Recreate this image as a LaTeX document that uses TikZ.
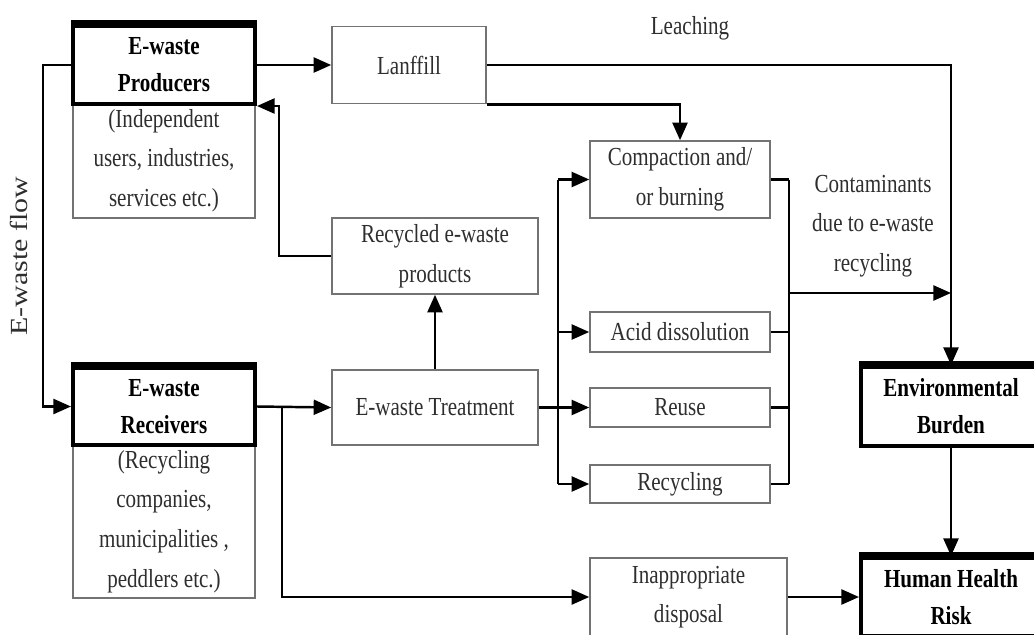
\documentclass[tikz,border=0pt]{standalone}
\usepackage{fontspec}
\setmainfont{Liberation Serif}[FakeStretch=0.81]
\newfontfamily\flowfont{Liberation Serif}[FakeStretch=1.22]
\usetikzlibrary{arrows.meta,calc}

\tikzset{
  box/.style = {draw = black!55, line width = 0.9pt, text = black!82, align = center,
    inner sep = 1pt, font = \fontsize{14.8}{22.5}\selectfont},
  heavybox/.style = {draw = black, line width = 2.3pt, align = center,
    inner sep = 1pt, font = \fontsize{14.8}{21}\selectfont\bfseries},
  note/.style = {text = black!82, align = center, font = \fontsize{14.8}{22.5}\selectfont},
  wire/.style = {line width = 1.4pt},
  arr/.style = {wire, -{Triangle[length = 10pt, width = 8.5pt]}},
}

\begin{document}
\begin{tikzpicture}[x = 0.02cm, y = -0.02cm]
                \useasboundingbox (0, 0) rectangle (1034, 635);

                % sources of e-waste
                \node [box, minimum width = 3.64cm, minimum height = 2.30cm] (prodinfo) at (164, 160.5) {(Independent\\users, industries,\\services etc.)};
                \node [heavybox, minimum width = 3.64cm, minimum height = 1.56cm] (prod) at (164, 65) {E-waste\\Producers};

                \node [box, minimum width = 3.64cm, minimum height = 3.06cm] (recinfo) at (164, 521.5) {(Recycling\\companies,\\municipalities ,\\peddlers etc.)};
                \node [heavybox, minimum width = 3.64cm, minimum height = 1.54cm] (rec) at (164, 406.5) {E-waste\\Receivers};

                % middle column
                \node [box, minimum width = 3.08cm, minimum height = 1.54cm] (land) at (409, 65) {Lanffill};
                \node [box, minimum width = 4.12cm, minimum height = 1.52cm] (recyc) at (435, 256) {Recycled e-waste\\products};
                \node [box, minimum width = 4.12cm, minimum height = 1.50cm] (treat) at (435, 407.5) {E-waste Treatment};

                % treatment routes
                \node [box, minimum width = 3.60cm, minimum height = 1.54cm] (comp) at (680, 179.5) {Compaction and/\\or burning};
                \node [box, minimum width = 3.60cm, minimum height = 0.80cm] (acid) at (680, 332) {Acid dissolution};
                \node [box, minimum width = 3.60cm, minimum height = 0.78cm] (reuse) at (680, 407.5) {Reuse};
                \node [box, minimum width = 3.60cm, minimum height = 0.76cm] (recyl) at (680, 484) {Recycling};
                \node [box, minimum width = 3.94cm, minimum height = 1.56cm] (inapp) at (688.5, 597) {Inappropriate\\disposal};

                % outcomes
                \node [heavybox, minimum width = 3.60cm, minimum height = 1.58cm] (env) at (951, 406.5) {Environmental\\Burden};
                \node [heavybox, minimum width = 3.60cm, minimum height = 1.56cm] (hhr) at (951, 597) {Human Health\\Risk};

                \foreach \b in {prod, rec, env, hhr}
                \draw [line width = 4pt] (\b.north west) -- (\b.north east);

                % labels
                \node [note] (leach) at (690, 28) {Leaching};
                \node [note] (contamtext) at (873, 226) {Contaminants\\due to e-waste\\recycling};
                \node [note, rotate = 90, font = \fontsize{14}{20}\flowfont] (flow) at (19, 256) {E-waste flow};

                % connectors
                \draw [arr] (prod.west) -- ++(-28, 0) |- (rec.west);
                \draw [arr] (prod.east) -- (land.west);
                \draw [arr] (land.east) -| (env.north);
                \draw [arr] (land.south east) -| (comp.north);
                \draw [arr] (recyc.west) -- ++(-52, 0) |- (prod.south east);
                \draw [arr] (treat.north) -- (recyc.south);
                \draw [arr] (rec.east) -- (treat.west);

                \path (rec.east) ++(25, 0) coordinate (recfork);
                \draw [arr] (recfork) |- (inapp.west);

                \draw [wire] (treat.east) -- ++(19, 0) coordinate (treatfork);
                \draw [wire] (treatfork |- comp.west) -- (treatfork |- recyl.west);
                \foreach \b in {comp, acid, reuse, recyl}
                \draw [arr] (treatfork |- \b.west) -- (\b.west);

                \foreach \b in {comp, acid, reuse, recyl}
                \draw [wire] (\b.east) -- ++(18, 0);
                \draw [wire] ($(comp.east) + (18, 0)$) -- ($(recyl.east) + (18, 0)$);

                \coordinate (contam) at (788, 293);
                \draw [arr] (contam) -- (env.north |- contam);

                \draw [arr] (env.south) -- (hhr.north);
                \draw [arr] (inapp.east) -- (hhr.west);
            \end{tikzpicture}
\end{document}
